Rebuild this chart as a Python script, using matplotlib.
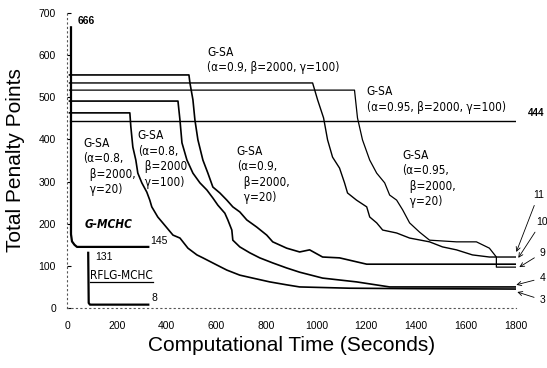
import matplotlib
matplotlib.use("Agg")
import matplotlib.pyplot as plt
from matplotlib.lines import Line2D

# G-SA runs: time (s), total penalty points
sa_08_20_t = [10, 252, 256, 264, 276, 284, 300, 320, 332, 340, 364, 384, 425, 453, 485, 521, 545,
              601, 641, 693, 745, 813, 881, 933, 1133, 1366, 1802]
sa_08_20_v = [463, 463, 430, 382, 351, 320, 297, 275, 256, 240, 216, 202, 173, 166, 142, 126, 119,
              102, 90, 78, 71, 62, 55, 50, 47, 46, 45]

sa_08_100_t = [10, 445, 453, 461, 481, 505, 533, 561, 585, 605, 633, 645, 661, 665, 693, 733, 773,
               825, 881, 933, 1025, 1161, 1294, 1366, 1802]
sa_08_100_v = [491, 491, 446, 392, 351, 320, 297, 280, 261, 244, 225, 209, 185, 161, 145, 131, 119,
               107, 95, 85, 71, 62, 50, 50, 50]

sa_09_20_t = [10, 489, 493, 505, 513, 525, 545, 565, 585, 613, 641, 665, 693, 721, 761, 801, 825,
              881, 933, 973, 1025, 1093, 1202, 1802]
sa_09_20_v = [553, 553, 534, 494, 446, 399, 351, 320, 287, 273, 256, 240, 228, 209, 192, 173, 157,
              142, 133, 138, 121, 119, 104, 104]

sa_09_100_t = [10, 985, 1005, 1029, 1045, 1065, 1093, 1113, 1125, 1161, 1202, 1214, 1242, 1266, 1322,
               1374, 1454, 1506, 1562, 1626, 1694, 1802]
sa_09_100_v = [534, 534, 494, 451, 399, 358, 332, 297, 273, 256, 240, 216, 202, 185, 178,
               166, 157, 145, 138, 126, 121, 121]

sa_095_20_t = [10, 1153, 1165, 1185, 1214, 1242, 1274, 1294, 1322, 1346, 1374, 1414, 1454, 1562, 1642,
               1694, 1722, 1722, 1802]
sa_095_20_v = [517, 517, 451, 399, 351, 320, 297, 268, 256, 233, 202, 180, 161, 157, 157,
               142, 121, 97, 97]

sa_095_100_t = [10, 1802]
sa_095_100_v = [444, 444]

gmchc_t = [16, 16, 20, 30, 40, 326]
gmchc_v = [666, 175, 158, 150, 145, 145]

rflg_t = [85, 87, 92, 326]
rflg_v = [131, 12, 8, 8]

final_labels = ["11", "10", "9", "4", "3"]
final_tips_t = [1802, 1810, 1814, 1802, 1806]
final_tips_v = [133, 119, 97, 55, 38]
final_text_t = [1868, 1880, 1895, 1895, 1895]
final_text_v = [268, 204, 131, 71, 19]

plt.rcParams['font.family'] = ['Liberation Sans', 'DejaVu Sans']

fig = plt.figure(figsize=(5.47, 3.68), dpi=100)
ax = fig.add_axes([0.1225, 0.163, 0.8205, 0.8017])

lc = 'black'
ax.plot(sa_08_20_t, sa_08_20_v, color=lc, lw=1.2)
ax.plot(sa_08_100_t, sa_08_100_v, color=lc, lw=1.2)
ax.plot(sa_09_20_t, sa_09_20_v, color=lc, lw=1.2)
ax.plot(sa_09_100_t, sa_09_100_v, color=lc, lw=1.0)
ax.plot(sa_095_20_t, sa_095_20_v, color=lc, lw=0.9)
ax.plot(sa_095_100_t, sa_095_100_v, color=lc, lw=1.0)
ax.plot(gmchc_t, gmchc_v, color=lc, lw=1.6)
ax.plot(rflg_t, rflg_v, color=lc, lw=1.6)

ax.set_xlim(0, 1800)
ax.set_ylim(0, 700)
ax.set_xticks(range(0, 1801, 200))
ax.set_yticks(range(0, 701, 100))
for s in ['top', 'right']:
    ax.spines[s].set_visible(False)
for s in ['left', 'bottom']:
    ax.spines[s].set_linestyle((0, (1, 3)))
    ax.spines[s].set_linewidth(0.8)
    ax.spines[s].set_color('#555555')
ax.tick_params(direction='in', length=3, width=0.8, labelsize=7.5, pad=8)
ax.tick_params(axis='x', length=0, pad=9)

ax.set_xlabel("Computational Time (Seconds)", fontsize=15, labelpad=4)
ax.set_ylabel("Total Penalty Points", fontsize=15, labelpad=10)

tf = dict(fontsize=8.5, family=['DejaVu Sans'], stretch='condensed', linespacing=1.25)
ax.text(76, 681, "666", fontsize=7.5, ha='center', va='center', fontweight='bold')
ax.text(561, 622, "G-SA\n(α=0.9, β=2000, γ=100)", va='top', ha='left', **tf)
ax.text(1202, 529, "G-SA\n(α=0.95, β=2000, γ=100)", va='top', ha='left', **tf)
ax.text(1848, 463, "444", fontsize=7, ha='left', va='center', fontweight='bold',
        clip_on=False)
ax.text(64, 406, "G-SA\n(α=0.8,\n  β=2000,\n  γ=20)", va='top', ha='left', **tf)
ax.text(284, 424, "G-SA\n(α=0.8,\n  β=2000\n  γ=100)", va='top', ha='left', **tf)
ax.text(681, 387, "G-SA\n(α=0.9,\n  β=2000,\n  γ=20)", va='top', ha='left', **tf)
ax.text(1346, 378, "G-SA\n(α=0.95,\n  β=2000,\n  γ=20)", va='top', ha='left', **tf)
ax.text(72, 199, "G-MCHC", fontsize=8.5, style='italic', fontweight='bold', va='center',
        ha='left', family=['DejaVu Sans'], stretch='condensed')
ax.text(332, 159, "145", fontsize=7.5, va='center', ha='left')
ax.text(112, 121, "131", fontsize=7.5, va='center', ha='left')
rf = ax.text(92, 78, "RFLG-MCHC", fontsize=8.5, va='center', ha='left',
             family=['DejaVu Sans'], stretch='condensed')
ax.text(340, 24, "8", fontsize=7.5, va='center', ha='left')

for lab, tt, tv, xt, xv in zip(final_labels, final_tips_t, final_tips_v, final_text_t, final_text_v):
    ax.annotate(lab, xy=(tt, tv), xytext=(xt, xv), fontsize=7.5, ha='left', va='center',
                annotation_clip=False,
                arrowprops=dict(arrowstyle='->', lw=0.6, color='black', shrinkA=2, shrinkB=0))

# underline for RFLG-MCHC, taken from the rendered text box
fig.canvas.draw()
bb = rf.get_window_extent().transformed(fig.transFigure.inverted())
fig.add_artist(Line2D([bb.x0, bb.x1], [bb.y0, bb.y0], color='black', lw=0.9,
                      transform=fig.transFigure))

fig.savefig("out.png", dpi=100)
